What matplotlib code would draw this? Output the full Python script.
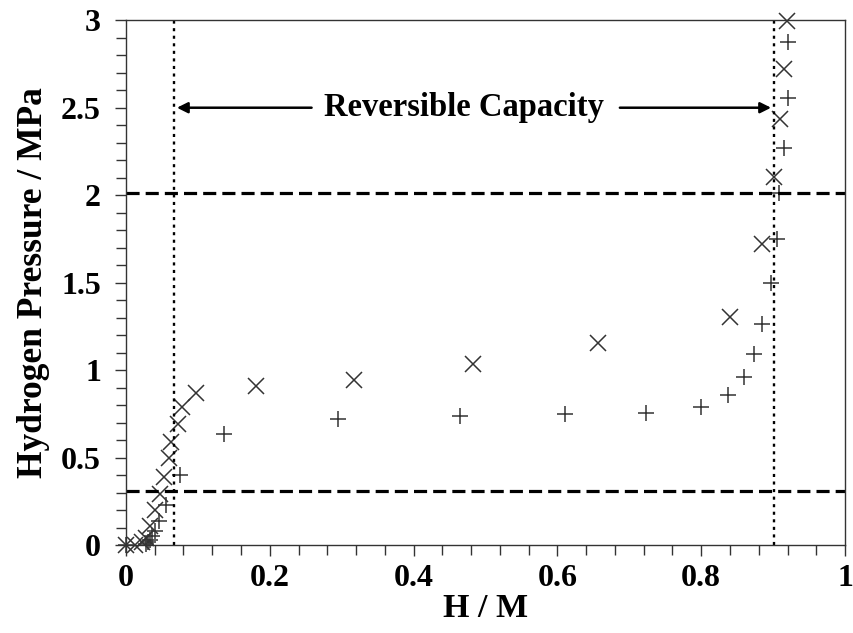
import matplotlib
matplotlib.use("Agg")
import matplotlib.pyplot as plt
from matplotlib.ticker import MultipleLocator, FuncFormatter

# data
h_abs = [0.0, 0.012, 0.022, 0.028, 0.033, 0.041, 0.047, 0.053, 0.060, 0.063, 0.0725,
         0.0785, 0.097, 0.181, 0.317, 0.482, 0.657, 0.840, 0.885, 0.901, 0.910, 0.915, 0.919]
p_abs = [0.0, 0.0, 0.02, 0.04, 0.11, 0.20, 0.29, 0.39, 0.495, 0.59, 0.69,
         0.79, 0.87, 0.91, 0.943, 1.033, 1.156, 1.301, 1.72, 2.105, 2.434, 2.72, 2.996]

h_des = [0.0, 0.028, 0.031, 0.033, 0.036, 0.040, 0.046, 0.056, 0.075, 0.136, 0.295, 0.465,
         0.610, 0.723, 0.800, 0.837, 0.860, 0.874, 0.885, 0.897, 0.905, 0.908, 0.915, 0.920, 0.921]
p_des = [0.0, 0.005, 0.015, 0.03, 0.05, 0.08, 0.135, 0.23, 0.40, 0.634, 0.72, 0.739,
         0.747, 0.753, 0.787, 0.857, 0.958, 1.09, 1.261, 1.50, 1.75, 2.01, 2.27, 2.558, 2.876]

p_levels = [2.01, 0.31]          # dashed horizontal lines
cap_limits = [0.067, 0.901]      # dotted vertical lines
cap_label = "Reversible Capacity"

plt.rcParams['font.family'] = ['Liberation Serif', 'DejaVu Serif']
plt.rcParams['font.weight'] = 'bold'

fig = plt.figure(figsize=(8.54, 6.33), dpi=100)
ax = fig.add_axes([0.1475, 0.139, 0.842, 0.829])

mk = dict(linestyle='none', color='#333333', markersize=12, markeredgewidth=1.1, clip_on=False)
ax.plot(h_abs, p_abs, marker='x', **mk)
ax.plot(h_des, p_des, marker='+', **mk)

for p in p_levels:
    ax.axhline(p, color='black', lw=2.3, linestyle=(0, (4.1, 1.9)))
for h in cap_limits:
    ax.axvline(h, color='black', lw=1.7, linestyle=(0, (1.3, 1.9)))

# double arrow split by the label
y_arr = 2.5
ax.text(0.47, y_arr, cap_label, ha='center', va='center', fontsize=23.5, fontweight='bold')
ax.annotate('', xy=(cap_limits[0], y_arr), xytext=(0.262, y_arr),
            arrowprops=dict(arrowstyle='-|>', color='black', lw=1.8, mutation_scale=16))
ax.annotate('', xy=(cap_limits[1], y_arr), xytext=(0.683, y_arr),
            arrowprops=dict(arrowstyle='-|>', color='black', lw=1.8, mutation_scale=16))

ax.set_xlim(0, 1)
ax.set_ylim(0, 3)
ax.xaxis.set_major_locator(MultipleLocator(0.2))
ax.xaxis.set_minor_locator(MultipleLocator(0.04))
ax.yaxis.set_major_locator(MultipleLocator(0.5))
ax.yaxis.set_minor_locator(MultipleLocator(0.1))
ax.xaxis.set_major_formatter(FuncFormatter(lambda v, _: '%g' % round(v, 2)))
ax.yaxis.set_major_formatter(FuncFormatter(lambda v, _: '%g' % round(v, 2)))

ax.tick_params(which='both', direction='out', color='#333333', width=1.0, labelsize=23)
ax.tick_params(axis='x', pad=6)
ax.tick_params(axis='y', pad=10)
ax.tick_params(which='major', length=8)
ax.tick_params(which='minor', length=7)
for s in ax.spines.values():
    s.set_color('#333333')
    s.set_linewidth(1.0)

ax.set_xlabel('H / M', fontsize=24.5, fontweight='bold', labelpad=0)
ax.set_ylabel('Hydrogen Pressure / MPa', fontsize=25.5, fontweight='bold', labelpad=8)

fig.savefig('out.png', dpi=100)
